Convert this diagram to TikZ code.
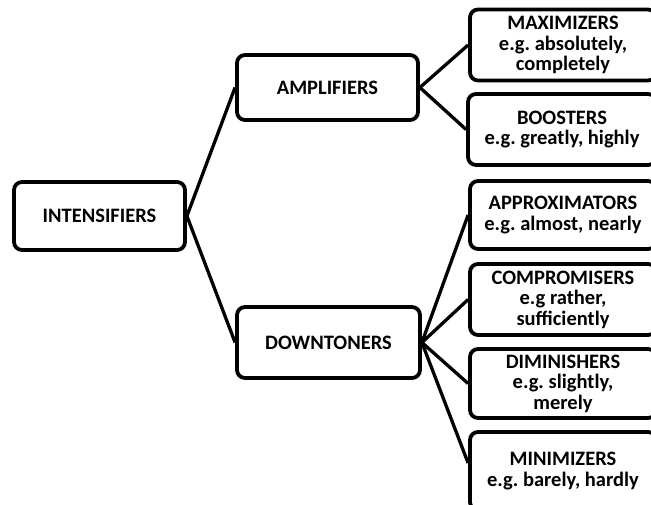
\documentclass[tikz,border=0pt]{standalone}
\usepackage{fontspec}
\setmainfont{Carlito}
\frenchspacing
\begin{document}
\begin{tikzpicture}[x=1pt,y=-1pt,
  box/.style={draw=black,line width=3.8pt,rounded corners=8pt,fill=white,align=center,
    font=\bfseries\fontsize{20.5}{20.5}\selectfont,inner sep=0pt},
  link/.style={draw=black,line width=3.3pt}]
\useasboundingbox (0,0) rectangle (651,504);
\node[box,minimum width=171pt,minimum height=68pt] (int) at (99.5,216) {INTENSIFIERS};
\node[box,minimum width=181pt,minimum height=65pt] (amp) at (327.5,87.5) {AMPLIFIERS};
\node[box,minimum width=183pt,minimum height=71pt] (down) at (328.5,342.5) {DOWNTONERS};
\node[box,minimum width=186pt,minimum height=71pt] (max) at (563,45) {MAXIMIZERS\\e.g. absolutely,\\completely};
\node[box,minimum width=188pt,minimum height=71pt] (boo) at (562,129.5) {BOOSTERS\\e.g. greatly, highly};
\node[box,minimum width=186pt,minimum height=68pt] (app) at (563,215) {APPROXIMATORS\\e.g. almost, nearly};
\node[box,minimum width=186pt,minimum height=71pt] (com) at (563,299.5) {COMPROMISERS\\e.g rather,\\sufficiently};
\node[box,minimum width=186pt,minimum height=69pt] (dim) at (563,383.5) {DIMINISHERS\\e.g. slightly,\\merely};
\node[box,minimum width=186pt,minimum height=78pt] (min) at (563,471) {MINIMIZERS\\e.g. barely, hardly};
\coordinate (minin) at ([yshift=8pt]min.west);
\draw[link] (int.east) -- (amp.west);
\draw[link] (int.east) -- (down.west);
\draw[link] (amp.east) -- (max.west);
\draw[link] (amp.east) -- (boo.west);
\draw[link] (down.east) -- (app.west);
\draw[link] (down.east) -- (com.west);
\draw[link] (down.east) -- (dim.west);
\draw[link] (down.east) -- (minin);
\end{tikzpicture}
\end{document}
